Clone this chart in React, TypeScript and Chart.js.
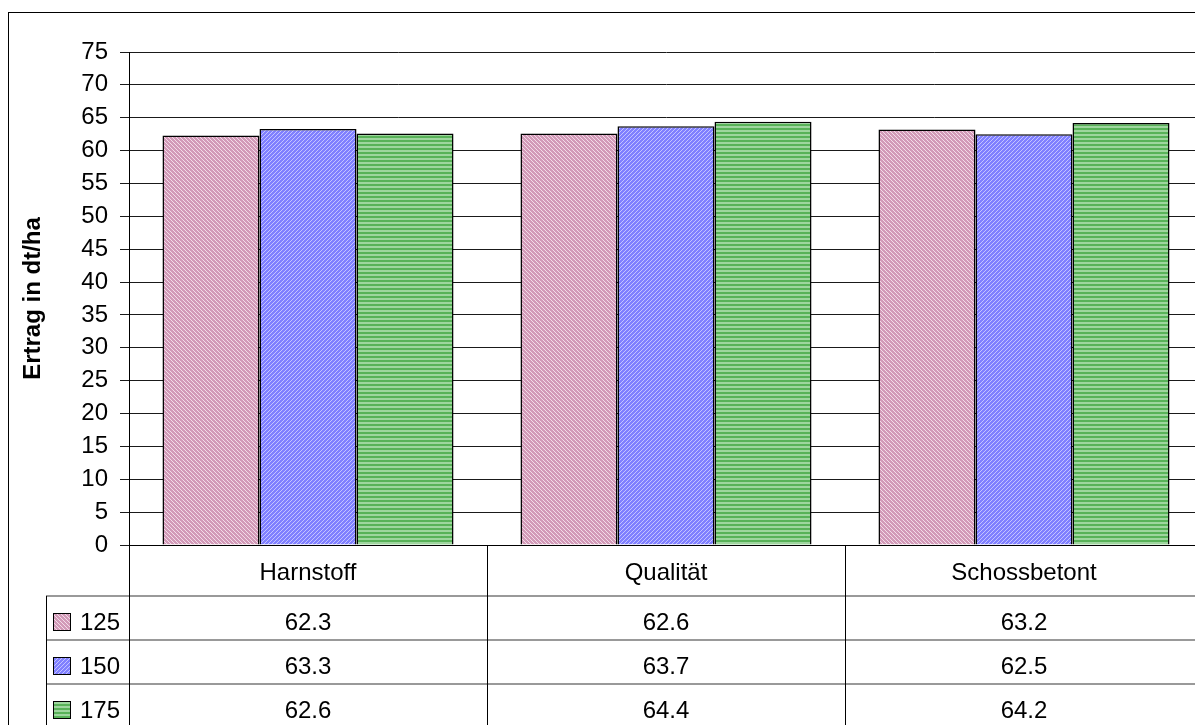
import React, { useEffect, useRef } from "react";
import { Chart, registerables } from "chart.js";

Chart.register(...registerables);

// ---- data ----
const categories = ["Harnstoff", "Qualität", "Schossbetont"];
const seriesNames = ["125", "150", "175"];
const values125 = [62.3, 62.6, 63.2];
const values150 = [63.3, 63.7, 62.5];
const values175 = [62.6, 64.4, 64.2];
const yTitle = "Ertrag in dt/ha";
const yMin = 0;
const yMax = 75;
const yStep = 5;

// ---- layout ----
const CANVAS_W = 1230;
const CANVAS_H = 760;
const PLOT_LEFT = 129;
const PLOT_TOP = 52;
const PLOT_RIGHT = 1203;
const PLOT_BOTTOM = 545;
const HEADER_ROW_H = 51;
const ROW_H = 44;
const TABLE_LEFT = 46;
const FONT = "'Liberation Sans', Arial, Helvetica, sans-serif";
const FONT_SIZE = 24;

type PatternKind = "checkDown" | "checkUp" | "hstripe";

function makePattern(kind: PatternKind, fg: string, bg: string): CanvasPattern | string {
  const tile = document.createElement("canvas");
  tile.width = 4;
  tile.height = 4;
  const g = tile.getContext("2d");
  if (!g) return fg;
  g.fillStyle = bg;
  g.fillRect(0, 0, 4, 4);
  g.fillStyle = fg;
  for (let y = 0; y < 4; y++) {
    for (let x = 0; x < 4; x++) {
      let on = false;
      if (kind === "checkDown") on = (x + y) % 2 === 0 || (x - y + 8) % 4 === 1;
      else if (kind === "checkUp") on = (x + y) % 2 === 0 || (x + y) % 4 === 1;
      else on = y < 2;
      if (on) g.fillRect(x, y, 1, 1);
    }
  }
  const p = g.createPattern(tile, "repeat");
  return p || fg;
}

export default function App() {
  const canvasRef = useRef<HTMLCanvasElement | null>(null);

  useEffect(() => {
    const canvas = canvasRef.current;
    if (!canvas) return;

    const fills = [
      makePattern("checkDown", "#d29ab8", "#f3dce8"),
      makePattern("checkUp", "#8080ff", "#c4c4ff"),
      makePattern("hstripe", "#58b258", "#9ed69e"),
    ];
    const seriesValues = [values125, values150, values175];

    const tablePlugin = {
      id: "dataTable",
      afterDraw(chart: any) {
        const { ctx, chartArea, scales } = chart;
        const xs = scales.x;
        const left = chartArea.left;
        const bottom = chartArea.bottom;
        const catW = (chartArea.right - chartArea.left) / categories.length;
        const H = chart.height;
        const W = chart.width;
        const rowsTop = bottom + HEADER_ROW_H;

        ctx.save();

        // horizontal row separators
        ctx.strokeStyle = "#777777";
        ctx.lineWidth = 1.5;
        for (let k = 0; k < seriesNames.length; k++) {
          const y = rowsTop + k * ROW_H;
          ctx.beginPath();
          ctx.moveTo(TABLE_LEFT, y);
          ctx.lineTo(W, y);
          ctx.stroke();
        }

        // vertical lines
        ctx.strokeStyle = "#000000";
        ctx.lineWidth = 1;
        ctx.beginPath();
        ctx.moveTo(TABLE_LEFT + 0.5, rowsTop);
        ctx.lineTo(TABLE_LEFT + 0.5, H);
        ctx.moveTo(Math.round(left) + 0.5, bottom);
        ctx.lineTo(Math.round(left) + 0.5, H);
        for (let i = 1; i < categories.length; i++) {
          const x = Math.round(left + i * catW) + 0.5;
          ctx.moveTo(x, bottom);
          ctx.lineTo(x, H);
        }
        ctx.stroke();

        // text
        ctx.fillStyle = "#000000";
        ctx.font = `${FONT_SIZE}px ${FONT}`;
        ctx.textBaseline = "alphabetic";
        ctx.textAlign = "center";
        categories.forEach((c, i) => {
          const cx = xs.getPixelForValue(i);
          ctx.fillText(c, cx, bottom + 35);
        });

        seriesNames.forEach((name, s) => {
          const top = rowsTop + s * ROW_H;
          const base = top + 34;
          ctx.textAlign = "right";
          ctx.fillStyle = "#000000";
          ctx.fillText(name, left - 9, base);
          // legend key
          ctx.fillStyle = fills[s] as any;
          ctx.fillRect(53, top + 17, 17, 17);
          ctx.strokeStyle = "#000000";
          ctx.lineWidth = 1;
          ctx.strokeRect(53.5, top + 17.5, 17, 17);
          ctx.fillStyle = "#000000";
          ctx.textAlign = "center";
          seriesValues[s].forEach((v, i) => {
            ctx.fillText(v.toFixed(1), xs.getPixelForValue(i), base);
          });
        });

        // outer frame
        ctx.strokeStyle = "#000000";
        ctx.lineWidth = 1;
        ctx.strokeRect(8.5, 12.5, W + 50, H + 50);

        ctx.restore();
      },
    };

    const chart = new Chart(canvas, {
      type: "bar",
      data: {
        labels: categories,
        datasets: seriesNames.map((name, s) => ({
          label: name,
          data: seriesValues[s],
          backgroundColor: fills[s] as any,
          borderColor: "#000000",
          borderWidth: 1.5,
          categoryPercentage: 0.813,
          barPercentage: 1.0,
        })),
      },
      options: {
        responsive: false,
        animation: false,
        devicePixelRatio: 1,
        layout: {
          padding: {
            left: 0,
            top: PLOT_TOP,
            right: CANVAS_W - PLOT_RIGHT,
            bottom: 0,
          },
        },
        plugins: {
          legend: { display: false },
          tooltip: { enabled: false },
          title: { display: false },
        },
        scales: {
          x: {
            type: "category",
            ticks: { display: false },
            grid: { display: false },
            border: { display: true, color: "#000000", width: 1 },
            afterFit: (scale: any) => {
              scale.height = CANVAS_H - PLOT_BOTTOM;
            },
          },
          y: {
            min: yMin,
            max: yMax,
            ticks: {
              stepSize: yStep,
              color: "#000000",
              padding: 12,
              font: { family: FONT, size: FONT_SIZE },
            },
            grid: {
              color: "#1a1a1a",
              lineWidth: 1,
              drawTicks: true,
              tickLength: 9,
            },
            border: { display: true, color: "#000000", width: 1 },
            title: {
              display: true,
              text: yTitle,
              color: "#000000",
              font: { family: FONT, size: FONT_SIZE, weight: "bold" },
              padding: { top: 19, bottom: 0 },
            },
            afterFit: (scale: any) => {
              scale.width = PLOT_LEFT;
            },
          },
        },
      },
      plugins: [tablePlugin],
    });

    return () => {
      chart.destroy();
    };
  }, []);

  return (
    <div
      style={{
        position: "fixed",
        left: 0,
        top: 0,
        width: "100vw",
        height: "100vh",
        overflow: "hidden",
        background: "#ffffff",
      }}
    >
      <canvas
        ref={canvasRef}
        width={CANVAS_W}
        height={CANVAS_H}
        style={{ position: "absolute", left: 0, top: 0, width: CANVAS_W, height: CANVAS_H }}
      />
    </div>
  );
}
